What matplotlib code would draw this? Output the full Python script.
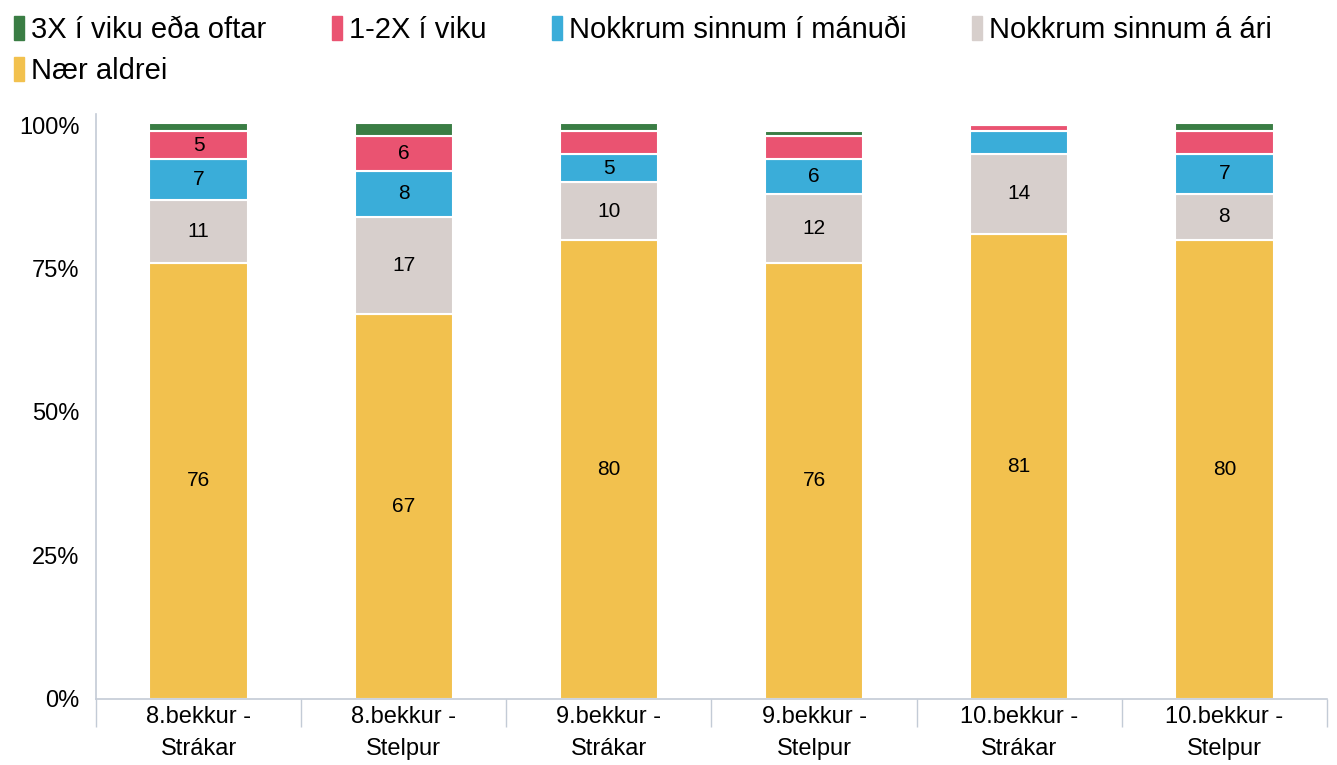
import matplotlib.pyplot as plt
import numpy as np
from matplotlib.patches import Patch

plt.rcParams['font.family'] = ['Liberation Sans', 'DejaVu Sans']

# Data (percent)
groups = ['8.bekkur -\nStrákar', '8.bekkur -\nStelpur', '9.bekkur -\nStrákar',
          '9.bekkur -\nStelpur', '10.bekkur -\nStrákar', '10.bekkur -\nStelpur']
naer_aldrei = [76, 67, 80, 76, 81, 80]
sinnum_ari = [11, 17, 10, 12, 14, 8]
sinnum_manudi = [7, 8, 5, 6, 4, 7]
einu_tvisvar = [5, 6, 4, 4, 1, 4]
thrisvar = [1.4, 2.3, 1.4, 1, 0, 1.4]

series = [
    ('Nær aldrei', naer_aldrei, '#f2c14e'),
    ('Nokkrum sinnum á ári', sinnum_ari, '#d7cfcc'),
    ('Nokkrum sinnum í mánuði', sinnum_manudi, '#3aadd9'),
    ('1-2X í viku', einu_tvisvar, '#ea5371'),
    ('3X í viku eða oftar', thrisvar, '#3a7d44'),
]

fig = plt.figure(figsize=(13.37, 7.65), dpi=100)
ax = fig.add_axes([0.0718, 0.0863, 0.9207, 0.7653])

x = np.arange(len(groups))
bottom = np.zeros(len(groups))
for name, vals, color in series:
    vals = np.array(vals, dtype=float)
    ax.bar(x, vals, bottom=bottom, width=0.48, color=color,
           edgecolor='white', linewidth=1.5)
    for xi, b, v in zip(x, bottom, vals):
        if v >= 5:
            ax.text(xi, b + v / 2, f'{v:.0f}', ha='center', va='center',
                    fontsize=15, color='black')
    bottom += vals

ax.set_xlim(-0.5, len(groups) - 0.5)
ax.set_ylim(0, 102)
ax.set_yticks([0, 25, 50, 75, 100])
ax.set_yticklabels(['0%', '25%', '50%', '75%', '100%'], fontsize=17)
ax.set_xticks(x)
ax.set_xticklabels(groups, fontsize=17, linespacing=1.6)
ax.tick_params(axis='x', length=0, pad=5)
ax.tick_params(axis='y', length=0, pad=12)

# category divider ticks
ax.set_xticks(np.arange(len(groups) + 1) - 0.5, minor=True)
ax.tick_params(axis='x', which='minor', length=20, color='#c3cbd6', width=1)

for s in ['top', 'right']:
    ax.spines[s].set_visible(False)
for s in ['left', 'bottom']:
    ax.spines[s].set_color('#c3cbd6')
    ax.spines[s].set_linewidth(1.2)

order = [4, 0, 3, 2, 1]
handles = [Patch(color=series[i][2]) for i in order]
labels = [series[i][0] for i in order]
fig.legend(handles, labels, loc='upper left', bbox_to_anchor=(-0.009, 1.014),
           ncol=4, frameon=False, fontsize=21, handlelength=0.33,
           handleheight=0.9, handletextpad=0.25, columnspacing=2.25,
           labelspacing=0.45)

fig.savefig('out.png', dpi=100)
